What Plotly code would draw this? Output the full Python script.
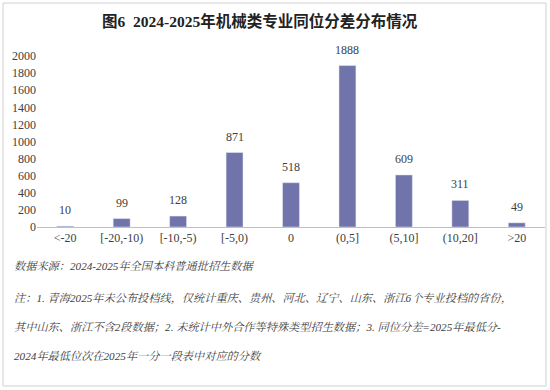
import plotly.graph_objects as go

categories = ["<-20", "[-20,-10)", "[-10,-5)", "[-5,0)", "0", "(0,5]", "(5,10]", "(10,20]", ">20"]
values = [10, 99, 128, 871, 518, 1888, 609, 311, 49]
y_ticks = [0, 200, 400, 600, 800, 1000, 1200, 1400, 1600, 1800, 2000]

title_text = "图6  2024-2025年机械类专业同位分差分布情况"
source_text = "数据来源：2024-2025年全国本科普通批招生数据"
note_lines = [
    "注：1. 青海2025年未公布投档线，仅统计重庆、贵州、河北、辽宁、山东、浙江6个专业投档的省份，",
    "其中山东、浙江不含2段数据；2. 未统计中外合作等特殊类型招生数据；3. 同位分差=2025年最低分-",
    "2024年最低位次在2025年一分一段表中对应的分数",
]

W, H = 550, 390
L, R, T, B = 37, 5, 56, 163
pw, ph = W - L - R, H - T - B

def px_x(x):
    return (x - L) / pw

def px_y(y):
    return (H - B - y) / ph

serif = "Liberation Serif, Noto Serif CJK SC, Noto Sans CJK SC, serif"
bar_color = "#7074AB"
text_color = "#404040"

idx = list(range(len(categories)))

fig = go.Figure()
fig.add_trace(go.Bar(x=idx, y=values, marker_color=bar_color, width=0.3, showlegend=False,
                     hoverinfo="skip"))

annotations = []
for i, v in zip(idx, values):
    annotations.append(dict(x=i, y=v, xref="x", yref="y", text=str(v), showarrow=False,
                            yanchor="middle", yshift=16,
                            font=dict(family=serif, size=12, color=text_color)))

annotations.append(dict(x=px_x(260), y=px_y(21), xref="paper", yref="paper", text="<b>" + title_text + "</b>",
                        showarrow=False, xanchor="center", yanchor="middle",
                        font=dict(family="Liberation Serif, Noto Sans CJK SC, serif", size=15.5, color="#222222")))

annotations.append(dict(x=px_x(12), y=px_y(266), xref="paper", yref="paper", text="<i>" + source_text + "</i>",
                        showarrow=False, xanchor="left", yanchor="middle",
                        font=dict(family=serif, size=11.2, color=text_color)))
for i, line in enumerate(note_lines):
    ys = [298, 327, 356][i]
    annotations.append(dict(x=px_x(12), y=px_y(ys), xref="paper", yref="paper", text="<i>" + line + "</i>",
                            showarrow=False, xanchor="left", yanchor="middle",
                            font=dict(family=serif, size=11.2, color=text_color)))

fig.update_layout(
    width=W, height=H,
    margin=dict(l=L, r=R, t=T, b=B),
    paper_bgcolor="white", plot_bgcolor="white",
    xaxis=dict(showline=True, linecolor="#BFBFBF", linewidth=1, ticks="", showgrid=False,
               tickvals=idx, ticktext=categories, range=[-0.5, len(categories) - 0.5],
               tickfont=dict(family=serif, size=12, color=text_color)),
    yaxis=dict(range=[0, 2000], tickvals=y_ticks, showgrid=False, zeroline=False, showline=False,
               ticks="", tickfont=dict(family=serif, size=12, color=text_color)),
    annotations=annotations,
    shapes=[dict(type="rect", xref="paper", yref="paper", x0=px_x(3), x1=px_x(546), y0=px_y(3), y1=px_y(386),
                 line=dict(color="#D0D0D0", width=1), layer="below")],
    bargap=0.7,
)

fig.write_html("out.html", config={"displayModeBar": False},
               post_script="document.body.style.margin='0';document.body.style.overflow='hidden';")
